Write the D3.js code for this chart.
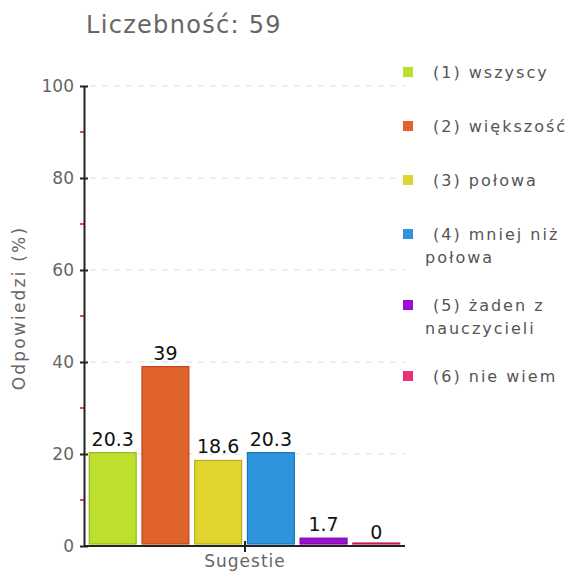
<!DOCTYPE html>
<html>
<head>
<meta charset="utf-8">
<script src="https://cdn.jsdelivr.net/npm/d3@7"></script>
<style>
  body { margin: 0; background: #fff; }
  svg { display: block; font-family: "DejaVu Sans", Verdana, sans-serif; }
</style>
</head>
<body>
<section></section>
<script>
const title = "Liczebność: 59";
const categories = ["(1) wszyscy", "(2) większość", "(3) połowa", "(4) mniej niż połowa", "(5) żaden z nauczycieli", "(6) nie wiem"];
const legendLines = [["(1) wszyscy"], ["(2) większość"], ["(3) połowa"], ["(4) mniej niż", "połowa"], ["(5) żaden z", "nauczycieli"], ["(6) nie wiem"]];
const values = [20.3, 39, 18.6, 20.3, 1.7, 0];
const valueLabels = ["20.3", "39", "18.6", "20.3", "1.7", "0"];
const fills = ["#bde02f", "#e0622c", "#e0d52e", "#2e95dd", "#9b10d0", "#e8327a"];
const strokes = ["#98b81c", "#c2471a", "#b9ad1a", "#1b76b8", "#7a08a8", "#c41a5c"];
const majorTicks = [0, 20, 40, 60, 80, 100];
const minorTicks = [10, 30, 50, 70, 90];

const width = 571, height = 573;
const svg = d3.select("section").append("svg")
  .attr("width", width)
  .attr("height", height);

const x = d3.scaleBand().domain(categories).range([84, 405]).paddingInner(0.11).paddingOuter(0.1);
const y = d3.scaleLinear().domain([0, 100]).range([546, 86]);

// title
svg.append("text")
  .attr("x", 86).attr("y", 33)
  .attr("fill", "#666")
  .attr("font-size", 24)
  .attr("letter-spacing", 1.3)
  .text(title);

// grid lines
svg.append("g")
  .selectAll("line")
  .data(majorTicks.filter(d => d > 0))
  .enter()
  .append("line")
  .attr("x1", 90).attr("x2", 405)
  .attr("y1", d => y(d)).attr("y2", d => y(d))
  .attr("stroke", "#ddd")
  .attr("stroke-dasharray", "6,6");

// minor red ticks
svg.append("g")
  .selectAll("line")
  .data(minorTicks)
  .enter()
  .append("line")
  .attr("x1", 80).attr("x2", 84)
  .attr("y1", d => y(d)).attr("y2", d => y(d))
  .attr("stroke", "red")
  .attr("stroke-width", 1.5);

// y axis
const yAxis = d3.axisLeft(y).tickValues(majorTicks).tickSize(0).tickPadding(10);
const yg = svg.append("g").attr("transform", "translate(84,0)").call(yAxis);
yg.select(".domain").attr("stroke", "#222").attr("stroke-width", 2);
yg.selectAll(".tick text").attr("fill", "#666").attr("font-size", 17).attr("font-family", "DejaVu Sans, sans-serif");
yg.selectAll(".tick")
  .append("line")
  .attr("x1", -4).attr("x2", 4)
  .attr("stroke", "#222")
  .attr("stroke-width", 2);

svg.append("text")
  .attr("transform", "translate(25,308) rotate(-90)")
  .attr("text-anchor", "middle")
  .attr("fill", "#666")
  .attr("font-size", 17)
  .attr("letter-spacing", 2.2)
  .text("Odpowiedzi (%)");

// bars
svg.append("g")
  .selectAll("rect")
  .data(values)
  .enter()
  .append("rect")
  .attr("x", (d, i) => x(categories[i]))
  .attr("width", x.bandwidth())
  .attr("y", d => Math.min(y(d), y(0) - 3) )
  .attr("height", d => Math.max(y(0) - y(d) - 2, 1))
  .attr("fill", (d, i) => fills[i])
  .attr("stroke", (d, i) => strokes[i])
  .attr("stroke-width", 1.2);

// value labels
svg.append("g")
  .selectAll("text")
  .data(values)
  .enter()
  .append("text")
  .attr("x", (d, i) => x(categories[i]) + x.bandwidth() / 2)
  .attr("y", d => y(d) - 7)
  .attr("text-anchor", "middle")
  .attr("fill", "#111")
  .attr("font-size", 19)
  .text((d, i) => valueLabels[i]);

// x axis
svg.append("line")
  .attr("x1", 84).attr("x2", 405)
  .attr("y1", y(0)).attr("y2", y(0))
  .attr("stroke", "#222").attr("stroke-width", 2);
svg.append("line")
  .attr("x1", 245).attr("x2", 245)
  .attr("y1", y(0) - 5).attr("y2", y(0) + 6)
  .attr("stroke", "#222").attr("stroke-width", 2);
svg.append("text")
  .attr("x", 245).attr("y", 567)
  .attr("text-anchor", "middle")
  .attr("fill", "#666")
  .attr("font-size", 17)
  .attr("letter-spacing", 1)
  .text("Sugestie");

// legend
let ly = 72;
legendLines.forEach((lines, i) => {
  const g = svg.append("g").attr("transform", `translate(0,${ly})`);
  g.append("rect")
    .attr("x", 403).attr("y", -5)
    .attr("width", 10).attr("height", 10)
    .attr("fill", fills[i]);
  lines.forEach((t, j) => {
    g.append("text")
      .attr("x", j === 0 ? 433 : 425)
      .attr("y", j * 23 + 6)
      .attr("fill", "#555")
      .attr("font-size", 16)
      .attr("letter-spacing", 2)
      .text(t);
  });
  ly += 54 + (lines.length - 1) * 17;
});
</script>
</body>
</html>
